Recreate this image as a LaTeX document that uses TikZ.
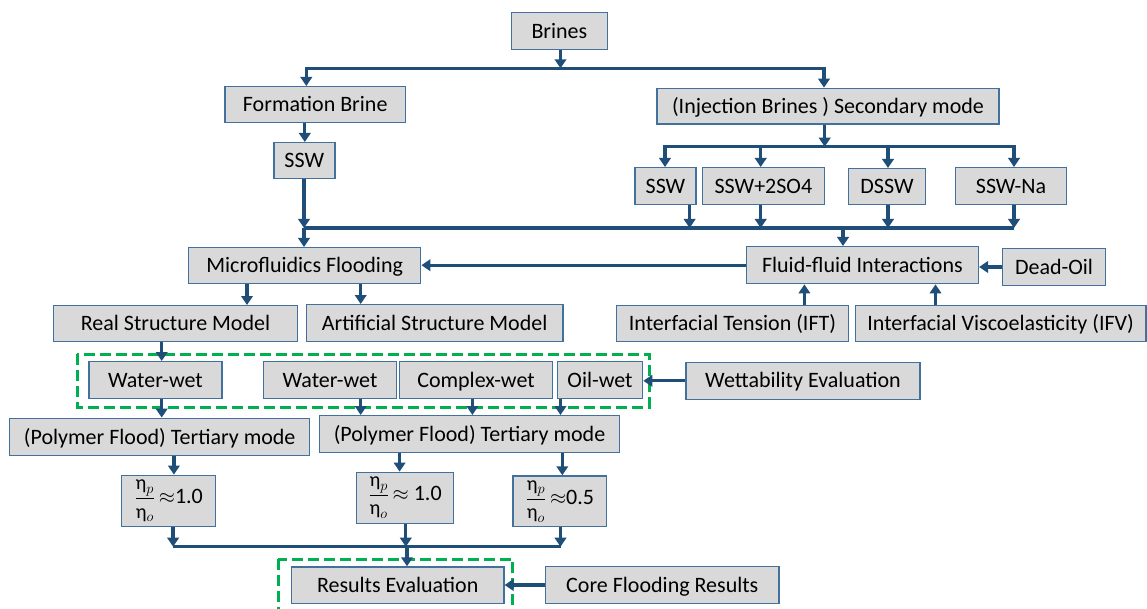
\documentclass[tikz,border=0pt]{standalone}
\usepackage{fontspec}
\setmainfont{Carlito}
\usetikzlibrary{arrows.meta}
\definecolor{boxfill}{RGB}{217,217,217}
\definecolor{boxline}{RGB}{65,113,156}
\definecolor{arrowcol}{RGB}{31,78,121}
\definecolor{dashgreen}{RGB}{0,176,80}
\newcommand{\etaratio}{{\fontsize{20}{24}\selectfont$\displaystyle\frac{\mbox{η}_{p}}{\mbox{η}_{o}}$}}
\begin{document}
\begin{tikzpicture}[x=1pt,y=-1pt,
  basebox/.style={draw=boxline, line width=1.4pt, fill=boxfill, inner sep=0pt,
    font=\fontsize{22}{26}\selectfont, text=black},
  box/.style={basebox, text height=14.2pt, text depth=0pt},
  arr/.style={draw=arrowcol, line width=3.3pt, -{Triangle[width=11.5pt,length=9pt]}},
  ln/.style={draw=arrowcol, line width=3.3pt},
  grp/.style={draw=dashgreen, line width=3pt, dash pattern=on 11pt off 5pt}]
\useasboundingbox (0,0) rectangle (1147,609);
\fill[white] (0,0) rectangle (1147,609);

% green dashed groups
\draw[grp] (77,354.3) rectangle (649,407.3);
\draw[grp] (278.2,559.3) rectangle (512.8,625);

% nodes
\node[box, minimum width=96pt, minimum height=36.6pt] (brines) at (559.4,31) {Brines};
\node[box, minimum width=180.5pt, minimum height=35.6pt] (formation) at (315.2,104.5) {Formation Brine};
\node[box, minimum width=342pt, minimum height=35.7pt] (injection) at (828,106.2) {(Injection Brines ) Secondary mode};
\node[box, minimum width=61pt, minimum height=36pt] (ssw1) at (304.3,160.7) {SSW};
\node[box, minimum width=61pt, minimum height=36.6pt] (ssw2) at (665.5,186) {SSW};
\node[box, minimum width=122pt, minimum height=36.6pt] (ssw2so4) at (763.4,186) {SSW+2SO4};
\node[box, minimum width=76.6pt, minimum height=35.6pt] (dssw) at (887,186.5) {DSSW};
\node[box, minimum width=111.5pt, minimum height=36.6pt] (sswna) at (1011,186) {SSW-Na};
\node[box, minimum width=232pt, minimum height=36pt] (micro) at (304.7,265.7) {Microfluidics Flooding};
\node[box, minimum width=232pt, minimum height=37pt] (fluid) at (862.4,265.2) {Fluid-fluid Interactions};
\node[box, minimum width=102.7pt, minimum height=36.6pt] (deadoil) at (1054,267) {Dead-Oil};
\node[box, minimum width=244pt, minimum height=35.6pt] (realsm) at (175.5,323.5) {Real Structure Model};
\node[box, minimum width=256.7pt, minimum height=36.6pt] (artsm) at (434.7,323) {Artificial Structure Model};
\node[box, minimum width=232pt, minimum height=35.6pt] (ift) at (732.5,323.5) {Interfacial Tension (IFT)};
\node[box, minimum width=290.8pt, minimum height=35.6pt] (ifv) at (1000.6,323.5) {Interfacial Viscoelasticity (IFV)};
\node[box, minimum width=133pt, minimum height=36.6pt] (ww1) at (155.4,380) {Water-wet};
\node[box, minimum width=133pt, minimum height=36.6pt] (ww2) at (330,380) {Water-wet};
\node[box, minimum width=153pt, minimum height=36.6pt] (cw) at (476,380) {Complex-wet};
\node[box, minimum width=85.3pt, minimum height=36.6pt] (ow) at (600,380) {Oil-wet};
\node[box, minimum width=234pt, minimum height=37pt] (wett) at (803,380.8) {Wettability Evaluation};
\node[box, minimum width=300pt, minimum height=37.4pt] (tert1) at (159.7,437) {(Polymer Flood) Tertiary mode};
\node[box, minimum width=300pt, minimum height=36.6pt] (tert2) at (469.5,434) {(Polymer Flood) Tertiary mode};
\node[basebox, minimum width=94pt, minimum height=51.4pt] (r1) at (168.7,501) {\etaratio\,$\approx$1.0};
\node[basebox, minimum width=97.3pt, minimum height=51pt] (r2) at (405,497.8) {\etaratio\,$\approx$ 1.0};
\node[basebox, minimum width=93.3pt, minimum height=50.7pt] (r3) at (559.8,501.3) {\etaratio\,$\approx$0.5};
\node[box, minimum width=212.4pt, minimum height=36.7pt] (results) at (397.7,585.3) {Results Evaluation};
\node[box, minimum width=233.3pt, minimum height=36.6pt] (core) at (662.3,585) {Core Flooding Results};

% junction coordinates
\coordinate (cBr) at (560.5,68.3);
\coordinate (cFB) at (306.3,68.3);
\coordinate (cIB) at (824,68.3);
\coordinate (xF) at (304.8,0);
\coordinate (cJ1) at (304,228);
\coordinate (cJ2) at (824.7,146.7);
\coordinate (cS2) at (665,146.7);
\coordinate (cSN) at (1014,146.7);
\coordinate (xSO) at (760.7,0);
\coordinate (xDS) at (888,0);
\coordinate (xS2b) at (689.6,0);
\coordinate (cB2) at (1014,228);
\coordinate (cFl) at (843,228);
\coordinate (xIFT) at (804.4,0);
\coordinate (xIFV) at (935.5,0);
\coordinate (xRS) at (247,0);
\coordinate (xAS) at (360.7,0);
\coordinate (xWW1) at (161.7,0);
\coordinate (xWW2) at (360.7,0);
\coordinate (xCW) at (472.4,0);
\coordinate (xOW) at (560.5,0);
\coordinate (xT1) at (173.9,0);
\coordinate (xT2a) at (399.6,0);
\coordinate (xT2b) at (562.3,0);
\coordinate (cR1) at (173.1,546.7);
\coordinate (cR2) at (405.8,546.7);
\coordinate (cR3) at (560.5,546.7);
\coordinate (cRes) at (407,546.7);

% connectors
\draw[arr] (cBr |- brines.south) -- (cBr);
\draw[arr] (cBr) -- (cFB) -- (cFB |- formation.north);
\draw[arr] (cBr) -- (cIB) -- (cIB |- injection.north);
\draw[arr] (xF |- formation.south) -- (xF |- ssw1.north);
\draw[arr] (cJ1 |- ssw1.south) -- (cJ1);
\draw[arr] (cJ1) -- (cJ1 |- micro.north);

\draw[arr] (cJ2 |- injection.south) -- (cJ2);
\draw[arr] (cJ2) -- (cS2) -- (cS2 |- ssw2.north);
\draw[arr] (cJ2) -- (cSN) -- (cSN |- sswna.north);
\draw[arr] (xSO |- cJ2) -- (xSO |- ssw2so4.north);
\draw[arr] (xDS |- cJ2) -- (xDS |- dssw.north);

\draw[ln] (cJ1) -- (cB2);
\draw[arr] (xS2b |- ssw2.south) -- (xS2b |- cB2);
\draw[arr] (xSO |- ssw2so4.south) -- (xSO |- cB2);
\draw[arr] (xDS |- dssw.south) -- (xDS |- cB2);
\draw[arr] (cB2 |- sswna.south) -- (cB2);
\draw[arr] (cFl) -- (cFl |- fluid.north);

\draw[arr] (fluid.west) -- (fluid.west -| micro.east);
\draw[arr] (deadoil.west) -- (deadoil.west -| fluid.east);
\draw[arr] (xIFT |- ift.north) -- (xIFT |- fluid.south);
\draw[arr] (xIFV |- ifv.north) -- (xIFV |- fluid.south);

\draw[arr] (xRS |- micro.south) -- (xRS |- realsm.north);
\draw[arr] (xAS |- micro.south) -- (xAS |- artsm.north);
\draw[arr] (xWW1 |- realsm.south) -- (xWW1 |- ww1.north);
\draw[arr] (xWW1 |- ww1.south) -- (xWW1 |- tert1.north);
\draw[arr] (xWW2 |- ww2.south) -- (xWW2 |- tert2.north);
\draw[arr] (xCW |- cw.south) -- (xCW |- tert2.north);
\draw[arr] (xOW |- ow.south) -- (xOW |- tert2.north);
\draw[arr] (wett.west) -- (wett.west -| ow.east);

\draw[arr] (xT1 |- tert1.south) -- (xT1 |- r1.north);
\draw[arr] (xT2a |- tert2.south) -- (xT2a |- r2.north);
\draw[arr] (xT2b |- tert2.south) -- (xT2b |- r3.north);

\draw[ln] (cR1) -- (cR3);
\draw[arr] (cR1 |- r1.south) -- (cR1);
\draw[arr] (cR2 |- r2.south) -- (cR2);
\draw[arr] (cR3 |- r3.south) -- (cR3);
\draw[arr] (cRes) -- (cRes |- results.north);
\draw[arr] (core.west) -- (core.west -| results.east);
\end{tikzpicture}
\end{document}
